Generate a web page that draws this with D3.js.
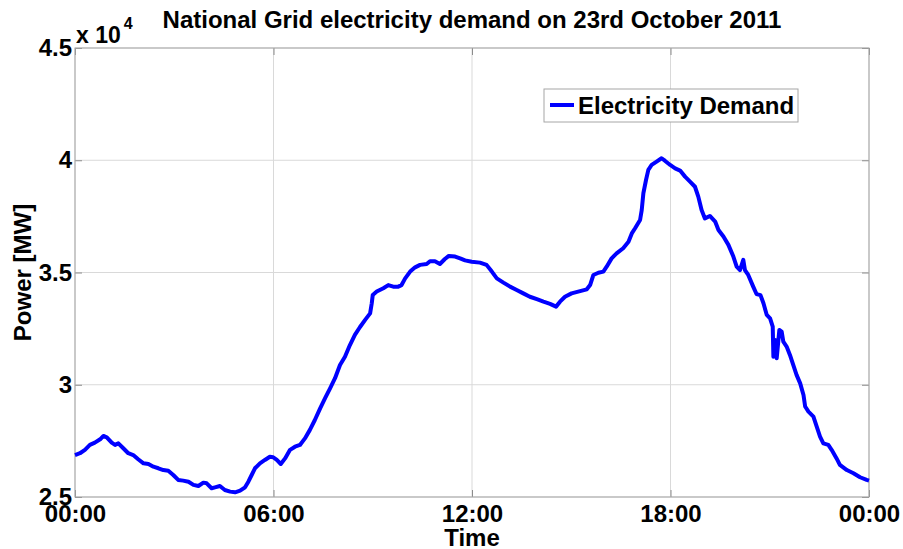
<!DOCTYPE html>
<html>
<head>
<meta charset="utf-8">
<script src="https://cdn.jsdelivr.net/npm/d3@7"></script>
<style>
    body { margin: 0; background: #ffffff; }
    text { font-family: "Liberation Sans", Arial, sans-serif; font-weight: bold; fill: #000; }
</style>
</head>
<body>
<svg id="chart" width="903" height="549"></svg>
<script>
// hours since midnight
var hours = [0.00, 0.15, 0.30, 0.45, 0.60, 0.76, 0.86, 0.96, 1.11, 1.21, 1.31, 1.46, 1.61, 1.76, 1.91,
    2.07, 2.22, 2.37, 2.52, 2.67, 2.82, 2.97, 3.12, 3.27, 3.43, 3.58, 3.73, 3.88, 3.98, 4.13, 4.23,
    4.38, 4.53, 4.69, 4.84, 4.99, 5.14, 5.24, 5.34, 5.44, 5.59, 5.74, 5.89, 5.99, 6.10, 6.22, 6.35,
    6.50, 6.65, 6.80, 6.95, 7.10, 7.25, 7.41, 7.56, 7.71, 7.86, 8.01, 8.16, 8.31, 8.46, 8.61, 8.77,
    8.92, 8.97, 9.00, 9.12, 9.32, 9.47, 9.62, 9.77, 9.87, 9.98, 10.13, 10.28, 10.43, 10.63, 10.73,
    10.88, 11.03, 11.18, 11.30, 11.49, 11.64, 11.79, 11.99, 12.24, 12.44, 12.60, 12.75, 12.95, 13.15,
    13.35, 13.55, 13.75, 13.96, 14.16, 14.36, 14.54, 14.66, 14.81, 15.01, 15.21, 15.47, 15.57, 15.67,
    15.82, 15.97, 16.07, 16.22, 16.37, 16.57, 16.73, 16.83, 16.93, 17.08, 17.13, 17.18, 17.26, 17.33,
    17.43, 17.58, 17.73, 17.83, 17.99, 18.14, 18.29, 18.44, 18.59, 18.74, 18.84, 18.94, 19.04, 19.19,
    19.35, 19.45, 19.60, 19.75, 19.90, 20.00, 20.10, 20.20, 20.25, 20.35, 20.50, 20.60, 20.72, 20.81,
    20.91, 21.01, 21.09, 21.11, 21.16, 21.21, 21.29, 21.36, 21.41, 21.51, 21.61, 21.71, 21.81, 21.92,
    22.02, 22.07, 22.17, 22.32, 22.42, 22.52, 22.62, 22.77, 22.87, 23.02, 23.12, 23.33, 23.53, 23.73,
    23.93, 24.00];

// demand in MW
var demand = [26870, 26950, 27100, 27320, 27420, 27570, 27720, 27660, 27420, 27320, 27390, 27170, 26950, 26870, 26680,
    26500, 26470, 26350, 26280, 26200, 26170, 25980, 25760, 25730, 25680, 25540, 25490, 25640, 25610, 25390, 25430,
    25490, 25310, 25240, 25210, 25280, 25430, 25680, 25980, 26280, 26500, 26650, 26790, 26770, 26650, 26470, 26720,
    27100, 27240, 27320, 27610, 27990, 28430, 28950, 29400, 29840, 30290, 30880, 31250, 31770, 32220, 32560, 32890,
    33180, 33630, 34000, 34150, 34300, 34440, 34370, 34370, 34440, 34740, 35040, 35230, 35340, 35380, 35500,
    35500, 35380, 35600, 35740, 35710, 35630, 35540, 35480, 35440, 35340, 35040, 34740, 34550, 34370,
    34220, 34070, 33920, 33810, 33700, 33600, 33480, 33700, 33920, 34070, 34150, 34250, 34440, 34890,
    34990, 35040, 35260, 35630, 35850, 36080, 36370, 36740, 36970, 37340, 37780, 38530, 39120, 39570,
    39790, 39940, 40090, 39980, 39790, 39640, 39540, 39270, 39050, 38820, 38380, 37780, 37410, 37520,
    37270, 36890, 36600, 36230, 35710, 35260, 35110, 35560, 35110, 34890, 34370, 34040, 33990, 33630,
    33110, 32960, 32590, 31250, 31990, 31180, 32440, 32370, 31920, 31700, 31330, 30880, 30440, 30060,
    29540, 29030, 28800, 28580, 28130, 27690, 27390, 27320, 27100, 26720, 26430, 26200, 26060, 25880,
    25760, 25730];

var xTicks = [0, 6, 12, 18, 24];
var xTickLabels = ['00:00', '06:00', '12:00', '18:00', '00:00'];
var yTicks = [25000, 30000, 35000, 40000, 45000];
var yTickLabels = ['2.5', '3', '3.5', '4', '4.5'];

var seriesName = 'Electricity Demand';
var titleText = 'National Grid electricity demand on 23rd October 2011';

var plotLeft = 75, plotRight = 869, plotTop = 48, plotBottom = 497;

var svg = d3.select('#chart');

var x = d3.scaleLinear().domain([0, 24]).range([plotLeft, plotRight]);
var y = d3.scaleLinear().domain([25000, 45000]).range([plotBottom, plotTop]);

// grid
svg.append('g')
    .selectAll('line')
    .data(xTicks)
    .enter()
    .append('line')
    .attr('x1', function(d) { return x(d); })
    .attr('x2', function(d) { return x(d); })
    .attr('y1', plotTop)
    .attr('y2', plotBottom)
    .attr('stroke', '#d9d9d9')
    .attr('stroke-width', 1);

svg.append('g')
    .selectAll('line')
    .data(yTicks)
    .enter()
    .append('line')
    .attr('x1', plotLeft)
    .attr('x2', plotRight)
    .attr('y1', function(d) { return y(d); })
    .attr('y2', function(d) { return y(d); })
    .attr('stroke', '#d9d9d9')
    .attr('stroke-width', 1);

// axes, ticks pointing inward
var xAxis = d3.axisBottom(x)
    .tickValues(xTicks)
    .tickSize(-7)
    .tickPadding(8)
    .tickFormat(function(d, i) { return xTickLabels[i]; });

var yAxis = d3.axisLeft(y)
    .tickValues(yTicks)
    .tickSize(-7)
    .tickPadding(3)
    .tickFormat(function(d, i) { return yTickLabels[i]; });

svg.append('g')
    .attr('transform', 'translate(0,' + plotBottom + ')')
    .call(xAxis);
svg.append('g')
    .attr('transform', 'translate(' + plotLeft + ',0)')
    .call(yAxis);

svg.append('g')
    .attr('transform', 'translate(0,' + plotTop + ')')
    .call(d3.axisTop(x).tickValues(xTicks).tickSize(-7).tickFormat(''));
svg.append('g')
    .attr('transform', 'translate(' + plotRight + ',0)')
    .call(d3.axisRight(y).tickValues(yTicks).tickSize(-7).tickFormat(''));

svg.selectAll('.domain').remove();
svg.selectAll('.tick line').attr('stroke', '#8c8c8c');
svg.selectAll('.tick text')
    .style('font-size', '24px')
    .style('font-weight', 'bold')
    .style('font-family', '"Liberation Sans", Arial, sans-serif')
    .attr('fill', '#000');

// box
svg.append('rect')
    .attr('x', plotLeft)
    .attr('y', plotTop)
    .attr('width', plotRight - plotLeft)
    .attr('height', plotBottom - plotTop)
    .attr('fill', 'none')
    .attr('stroke', '#a6a6a6')
    .attr('stroke-width', 1);

// the series
var line = d3.line()
    .x(function(d, i) { return x(hours[i]); })
    .y(function(d) { return y(d); });

svg.append('path')
    .datum(demand)
    .attr('d', line)
    .attr('fill', 'none')
    .attr('stroke', '#0000ff')
    .attr('stroke-width', 4)
    .attr('stroke-linejoin', 'round');

// exponent label
var expo = svg.append('text')
    .attr('x', 76)
    .attr('y', 43)
    .style('font-size', '23px');
expo.append('tspan').text('x 10');
expo.append('tspan')
    .attr('dx', 3)
    .attr('dy', -14)
    .style('font-size', '16px')
    .text('4');

// title and axis labels
svg.append('text')
    .attr('x', (plotLeft + plotRight) / 2)
    .attr('y', 28)
    .attr('text-anchor', 'middle')
    .style('font-size', '24px')
    .text(titleText);

svg.append('text')
    .attr('x', (plotLeft + plotRight) / 2)
    .attr('y', 546)
    .attr('text-anchor', 'middle')
    .style('font-size', '24px')
    .text('Time');

svg.append('text')
    .attr('transform', 'translate(31,' + ((plotTop + plotBottom) / 2) + ') rotate(-90)')
    .attr('text-anchor', 'middle')
    .style('font-size', '24px')
    .text('Power [MW]');

// legend
var legend = svg.append('g');
legend.append('rect')
    .attr('x', 544)
    .attr('y', 89)
    .attr('width', 254)
    .attr('height', 33)
    .attr('fill', '#ffffff')
    .attr('stroke', '#a6a6a6')
    .attr('stroke-width', 1);
legend.append('line')
    .attr('x1', 550)
    .attr('x2', 574)
    .attr('y1', 105)
    .attr('y2', 105)
    .attr('stroke', '#0000ff')
    .attr('stroke-width', 4);
legend.append('text')
    .attr('x', 578)
    .attr('y', 114)
    .style('font-size', '24px')
    .text(seriesName);
</script>
</body>
</html>
